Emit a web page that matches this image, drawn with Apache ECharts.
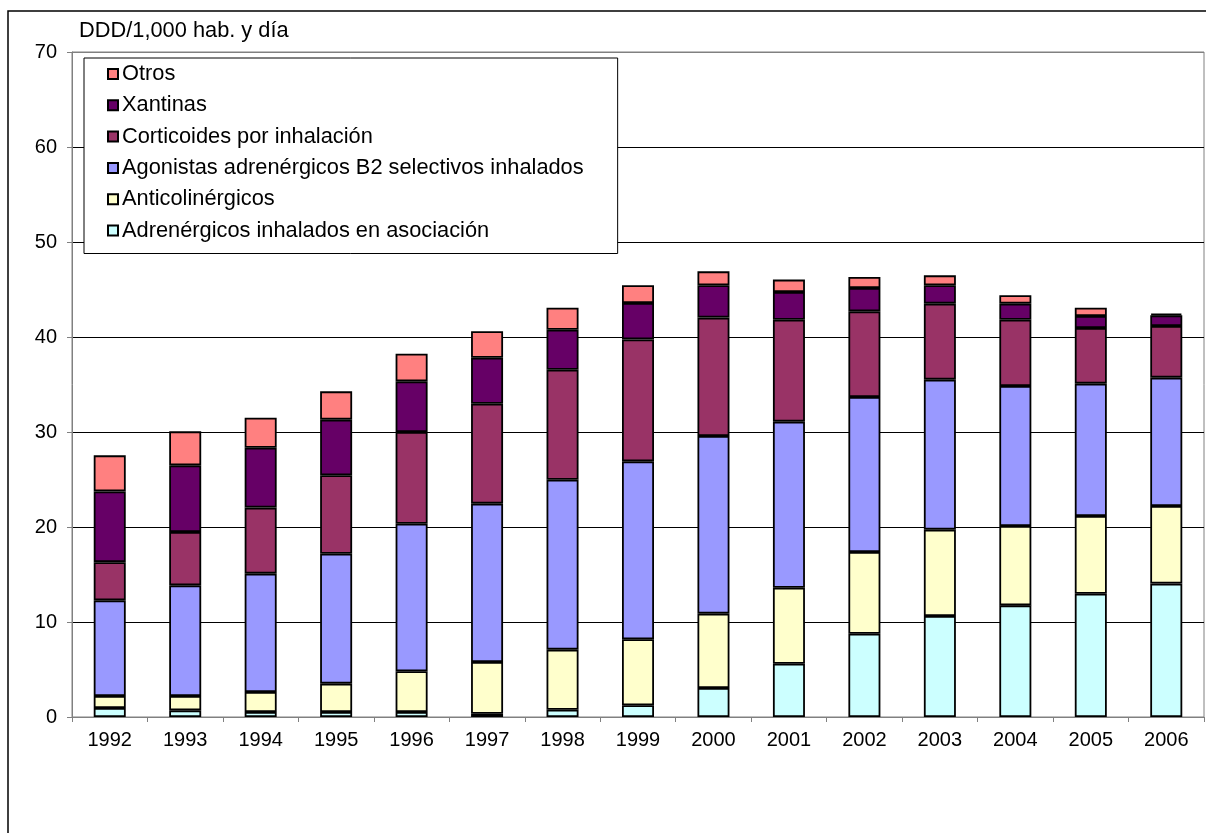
<!DOCTYPE html>
<html>
<head>
<meta charset="utf-8">
<script src="https://cdn.jsdelivr.net/npm/echarts@6/dist/echarts.min.js"></script>
<style>
html,body{margin:0;padding:0;background:#fff;}
#chart{width:1206px;height:833px;}
</style>
</head>
<body>
<div id="chart"></div>
<script>
const years = ['1992','1993','1994','1995','1996','1997','1998','1999','2000','2001','2002','2003','2004','2005','2006'];
const yTicks = [0, 10, 20, 30, 40, 50, 60, 70];
const adrenergicosAsoc = [0.95, 0.70, 0.53, 0.53, 0.53, 0.35, 0.77, 1.23, 3.05, 5.61, 8.77, 10.63, 11.75, 12.98, 14.04];
const anticolinergicos = [1.26, 1.51, 2.10, 2.98, 4.28, 5.44, 6.32, 6.95, 7.83, 8.00, 8.60, 9.09, 8.36, 8.18, 8.17];
const agonistasB2 = [10.07, 11.65, 12.46, 13.68, 15.54, 16.67, 17.89, 18.73, 18.70, 17.48, 16.31, 15.79, 14.73, 13.93, 13.51];
const corticoides = [4.02, 5.61, 6.95, 8.25, 9.65, 10.52, 11.58, 12.84, 12.46, 10.73, 9.02, 8.00, 6.98, 5.86, 5.44];
const xantinas = [7.45, 7.02, 6.31, 5.86, 5.33, 4.84, 4.21, 3.83, 3.40, 2.92, 2.46, 1.93, 1.69, 1.26, 1.12];
const otros = [3.79, 3.58, 3.16, 2.98, 2.92, 2.78, 2.32, 1.86, 1.47, 1.30, 1.16, 1.05, 0.88, 0.88, 0.18];

const seriesDefs = [
  {name: 'Adrenérgicos inhalados en asociación', data: adrenergicosAsoc, color: '#CCFFFF'},
  {name: 'Anticolinérgicos', data: anticolinergicos, color: '#FFFFCC'},
  {name: 'Agonistas adrenérgicos B2 selectivos inhalados', data: agonistasB2, color: '#9999FF'},
  {name: 'Corticoides por inhalación', data: corticoides, color: '#993366'},
  {name: 'Xantinas', data: xantinas, color: '#660066'},
  {name: 'Otros', data: otros, color: '#FF8080'}
];

const FONT = '"Liberation Sans", Arial, sans-serif';
const chart = echarts.init(document.getElementById('chart'), null, {renderer: 'canvas'});
chart.setOption({
  animation: false,
  backgroundColor: '#fff',
  textStyle: {fontFamily: FONT},
  graphic: [{
    type: 'rect',
    shape: {x: 8, y: 11, width: 1400, height: 1000},
    style: {fill: 'none', stroke: '#000', lineWidth: 1.5},
    silent: true, z: 0
  }],
  grid: {
    left: 72, right: 2, top: 52, bottom: 116,
    show: true, borderColor: '#808080', borderWidth: 1, backgroundColor: 'transparent'
  },
  legend: {
    orient: 'vertical',
    left: 84, top: 58,
    data: seriesDefs.map(s => s.name).reverse(),
    backgroundColor: '#fff',
    borderColor: '#000', borderWidth: 1,
    padding: [5, 34, 12, 23],
    itemWidth: 10, itemHeight: 10, itemGap: 9.3,
    icon: 'rect',
    textStyle: {fontSize: 21.8, color: '#000', fontFamily: FONT, padding: [0, 0, 0, -1]},
    selectedMode: false
  },
  xAxis: {
    type: 'category',
    data: years,
    boundaryGap: true,
    axisLine: {lineStyle: {color: '#808080', width: 1}},
    axisTick: {show: true, interval: 0, length: 5, lineStyle: {color: '#808080'}},
    axisLabel: {fontSize: 20, color: '#000', margin: 13, fontFamily: FONT, interval: 0},
    splitLine: {show: false}
  },
  yAxis: {
    type: 'value',
    min: yTicks[0], max: yTicks[yTicks.length - 1], interval: 10,
    name: 'DDD/1,000 hab. y día',
    nameLocation: 'end',
    nameGap: 21,
    nameTextStyle: {fontSize: 21.8, color: '#000', align: 'left', verticalAlign: 'middle', padding: [0, 0, 0, 7], fontFamily: FONT},
    axisLine: {show: true, lineStyle: {color: '#808080', width: 1}},
    axisTick: {show: true, length: 5, lineStyle: {color: '#808080'}},
    axisLabel: {fontSize: 20, color: '#000', margin: 15, fontFamily: FONT},
    splitLine: {show: true, lineStyle: {color: ['#808080', '#000', '#000', '#000', '#000', '#000', '#000', '#808080'], width: 1}}
  },
  series: seriesDefs.map(s => ({
    name: s.name,
    type: 'bar',
    stack: 'total',
    data: s.data,
    barWidth: 32,
    itemStyle: {color: s.color, borderColor: '#000', borderWidth: 1.8},
    emphasis: {disabled: true}
  }))
});
</script>
</body>
</html>
